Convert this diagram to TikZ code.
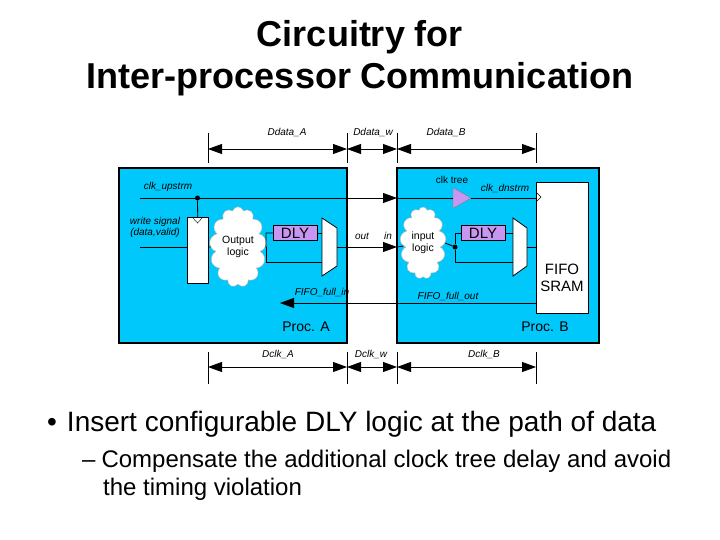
\documentclass[tikz,border=0pt]{standalone}
\usepackage{fontspec}
\setmainfont{Liberation Sans}
\usetikzlibrary{shapes.symbols,shapes.geometric,arrows.meta}
\begin{document}
\begin{tikzpicture}[x=1pt,y=-1pt,
  proc/.style={draw=black,line width=1.5pt,fill={rgb,255:red,0;green,200;blue,250}},
  wire/.style={line width=0.8pt},
  arr/.style={wire,-{Triangle[length=14pt,width=10pt]}},
  dim/.style={wire,{Triangle[length=14pt,width=10pt]}-{Triangle[length=14pt,width=10pt]}},
  dly/.style={draw,fill={rgb,255:red,200;green,150;blue,240},minimum width=44pt,minimum height=15pt,inner sep=0pt,font=\fontsize{15}{15}\selectfont},
  lab/.style={font=\itshape\fontsize{10}{11}\selectfont,inner sep=1pt},
  cld/.style={cloud,cloud puffs=13,draw=gray!60,fill=white,minimum width=46pt,minimum height=72pt,aspect=0.6,align=center,font=\fontsize{10.5}{12}\selectfont,inner sep=0pt},
  dot/.style={circle,fill,inner sep=0pt,minimum size=5pt}]
\useasboundingbox (0,0) rectangle (720,540);
\node (t1) at (360,37) {\fontsize{36}{38}\selectfont\bfseries Circuitry for};
\node (t2) at (360,79) {\fontsize{36}{38}\selectfont\bfseries Inter-processor Communication};
% processors
\draw[proc] (119,168) rectangle (347,343);
\draw[proc] (397,168) rectangle (599,343);
\node[font=\fontsize{14}{14}\selectfont] (pa) at (306,327) {Proc. A};
\node[font=\fontsize{14}{14}\selectfont] (pb) at (545,327) {Proc. B};
% dimension lines
\foreach \x/\n in {208/a,347/b,397/c,536/d}{
  \coordinate (ut\n) at (\x,149); \coordinate (lt\n) at (\x,367);
  \draw[wire] (\x,133) -- (\x,163); \draw[wire] (\x,352) -- (\x,384);}
\draw[dim] (uta) -- (utb); \draw[dim] (utb) -- (utc); \draw[dim] (utc) -- (utd);
\draw[dim] (lta) -- (ltb); \draw[dim] (ltb) -- (ltc); \draw[dim] (ltc) -- (ltd);
\node[lab] at (287,132) {Ddata\_A};
\node[lab] at (373,132) {Ddata\_w};
\node[lab] at (446,132) {Ddata\_B};
\node[lab] at (278,354) {Dclk\_A};
\node[lab] at (371,354) {Dclk\_w};
\node[lab] at (484,354) {Dclk\_B};
% register and fifo
\node[draw,fill=white,minimum width=21pt,minimum height=66pt,inner sep=0pt,anchor=north west] (reg) at (187,217) {};
\draw (192,217) -- (197.5,223) -- (203,217);
\node[draw,fill=white,minimum width=52pt,minimum height=131pt,inner sep=0pt,anchor=north west] (fifo) at (536,182) {};
\node[align=center,font=\fontsize{15}{17}\selectfont] at (562,278) {FIFO\\SRAM};
\draw (536,192) -- (541,197) -- (536,202);
% clock
\coordinate (cs) at (140,198);
\node[dot] (cd) at (197.5,198) {};
\coordinate (cb) at (397,198);
\draw[arr] (cs) -- (cb);
\draw[wire] (cd) -- (reg.north);
\node[draw=gray,fill={rgb,255:red,200;green,150;blue,240},isosceles triangle,isosceles triangle apex angle=60,minimum height=18pt,inner sep=0pt] (ct) at (459,198) {};
\draw[wire] (cb) -- (ct.west);
\draw[wire] (ct.east) -- (fifo.west |- ct.east);
\node[lab] at (168,187) {clk\_upstrm};
\node[font=\fontsize{10}{11}\selectfont] at (452,180) {clk tree};
\node[lab] at (505,188) {clk\_dnstrm};
\node[lab,align=center] at (155,227) {write signal\\(data,valid)};
% side A data
\coordinate (ds) at (140,247);
\draw[wire] (ds) -- (reg.west |- ds);
\node[cld] (ca) at (238,247) {Output\\logic};
\draw[wire] (reg.east |- ca) -- (ca);
\node[dly] (da) at (295,233) {DLY};
\draw[wire,fill=white] (322,218) -- (337,228) -- (337,266) -- (322,276) -- cycle;
\coordinate (ma) at (337,247);
\draw[wire] (ca.east) -- (266,247) |- (da.west);
\draw[wire] (266,247) |- (322,262);
\draw[wire] (da.east) -- (322,233);
\coordinate (inb) at (397,247);
\draw[arr] (ma) -- (inb);
\node[lab] at (362,236) {out};
\node[lab] at (388,236) {in};
% side B
\node[cld] (cb2) at (423,243) {input\\logic};
\draw[wire] (inb) -- (cb2);
\node[dly] (db) at (483,233) {DLY};
\draw[wire,fill=white] (513,218) -- (527,228) -- (527,266) -- (513,276) -- cycle;
\node[dot] (bd) at (455,247) {};
\draw[wire] (cb2.east) -- (bd);
\draw[wire] (bd) |- (db.west);
\draw[wire] (bd) |- (513,262);
\draw[wire] (db.east) -- (513,233);
\draw[wire] (527,247) -- (fifo.west |- 0,247);
% fifo full
\coordinate (ff) at (280,303);
\draw[arr] (fifo.west |- ff) -- (ff);
\node[lab] at (322,292) {FIFO\_full\_in};
\node[lab] at (448,296) {FIFO\_full\_out};
% bullets
\node[anchor=west,font=\fontsize{28}{30}\selectfont,inner sep=0pt] (b1) at (47,424) {•\hspace{10pt}Insert configurable DLY logic at the path of data};
\node[anchor=west,font=\fontsize{24}{26}\selectfont,inner sep=0pt] (b2) at (82,461) {–\hspace{6pt}Compensate the additional clock tree delay and avoid};
\node[anchor=west,font=\fontsize{24}{26}\selectfont,inner sep=0pt] (b3) at (103,489) {the timing violation};
\end{tikzpicture}
\end{document}
